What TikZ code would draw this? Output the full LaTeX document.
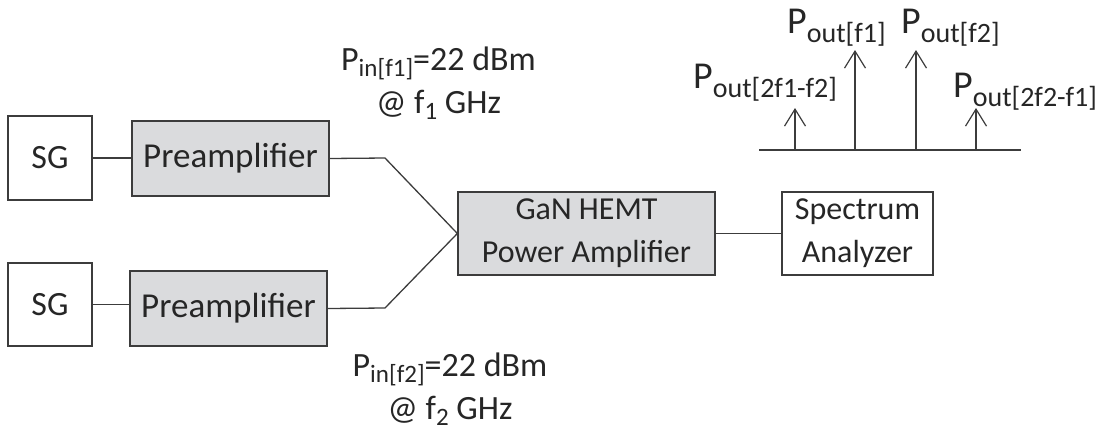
\documentclass[tikz,border=0pt]{standalone}
\usepackage{fontspec}
\setmainfont{Carlito}
\usetikzlibrary{arrows.meta}
\definecolor{boxfill}{RGB}{218,219,221}
\definecolor{linegray}{RGB}{60,60,60}
\newcommand\fsz[1]{\fontsize{#1}{43}\selectfont}
\newcommand\insub[1]{\raisebox{-6pt}{\fontsize{25}{25}\selectfont #1}}
\newcommand\outsub[1]{\raisebox{-9pt}{\fontsize{28}{28}\selectfont #1}}
\begin{document}
\begin{tikzpicture}[x=1pt,y=-1pt,
  blk/.style={draw=linegray,line width=1.3pt,minimum width=#1,inner sep=0pt,align=center,text=black!85},
  shaded/.style={fill=boxfill},
  wire/.style={draw=linegray,line width=1.3pt},
  lbl/.style={inner sep=0pt,text=black!85},
  spike/.style={draw=linegray,line width=1.2pt,-{Straight Barb[length=17pt,width=21pt]}}]
\useasboundingbox (0,0) rectangle (1108,432);
% blocks
\node[blk=84pt,minimum height=84pt,font=\fsz{34}] (sg1) at (50,158) {SG};
\node[blk=197pt,minimum height=75pt,shaded,font=\fsz{35}] (pa1) at (230.5,158.5) {Preamplifier};
\node[blk=84pt,minimum height=83pt,font=\fsz{34}] (sg2) at (50,304.5) {SG};
\node[blk=197pt,minimum height=75pt,shaded,font=\fsz{35}] (pa2) at (228.5,308.5) {Preamplifier};
\node[blk=257pt,minimum height=83pt,shaded,font=\fsz{32}] (pa) at (586.5,233.5) {GaN HEMT\\Power Amplifier};
\node[blk=151pt,minimum height=83pt,font=\fsz{32}] (sa) at (857.5,233.5) {Spectrum\\Analyzer};
% connectors
\coordinate (b1) at (385,158);
\coordinate (b2) at (385,308);
\draw[wire] (sg1.east) -- (sg1.east -| pa1.west);
\draw[wire] (sg2.east) -- (sg2.east -| pa2.west);
\draw[wire] (pa1.east) -- (b1) -- (pa.west);
\draw[wire] (pa2.east) -- (b2) -- (pa.west);
\draw[wire] (pa.east) -- (sa.west);
% input labels
\node[lbl,align=center,anchor=base,font=\fsz{34}] (in1) at (438.5,113) {P\insub{in[f1]}=22 dBm\\@ f\insub{1} GHz};
\node[lbl,align=center,anchor=base,font=\fsz{34}] (in2) at (450,419) {P\insub{in[f2]}=22 dBm\\@ f\insub{2} GHz};
% spectrum
\coordinate (s0) at (759,150);
\coordinate (s1) at (1021,150);
\draw[wire,line width=1.2pt] (s0) -- (s1);
\coordinate (a1) at (795,150); \coordinate (t1) at (795,108);
\coordinate (a2) at (855,150); \coordinate (t2) at (855,50);
\coordinate (a3) at (916,150); \coordinate (t3) at (916,50);
\coordinate (a4) at (976,150); \coordinate (t4) at (976,108);
\draw[spike] (a1) -- (t1);
\draw[spike] (a2) -- (t2);
\draw[spike] (a3) -- (t3);
\draw[spike] (a4) -- (t4);
\node[lbl,anchor=base west,font=\fsz{38}] (o1) at (787,33) {P\outsub{out[f1]}};
\node[lbl,anchor=base west,font=\fsz{38}] (o2) at (901,33) {P\outsub{out[f2]}};
\node[lbl,anchor=base west,font=\fsz{38}] (o3) at (693,88) {P\outsub{out[2f1-f2]}};
\node[lbl,anchor=base west,font=\fsz{38}] (o4) at (953,97) {P\outsub{out[2f2-f1]}};
\end{tikzpicture}
\end{document}
